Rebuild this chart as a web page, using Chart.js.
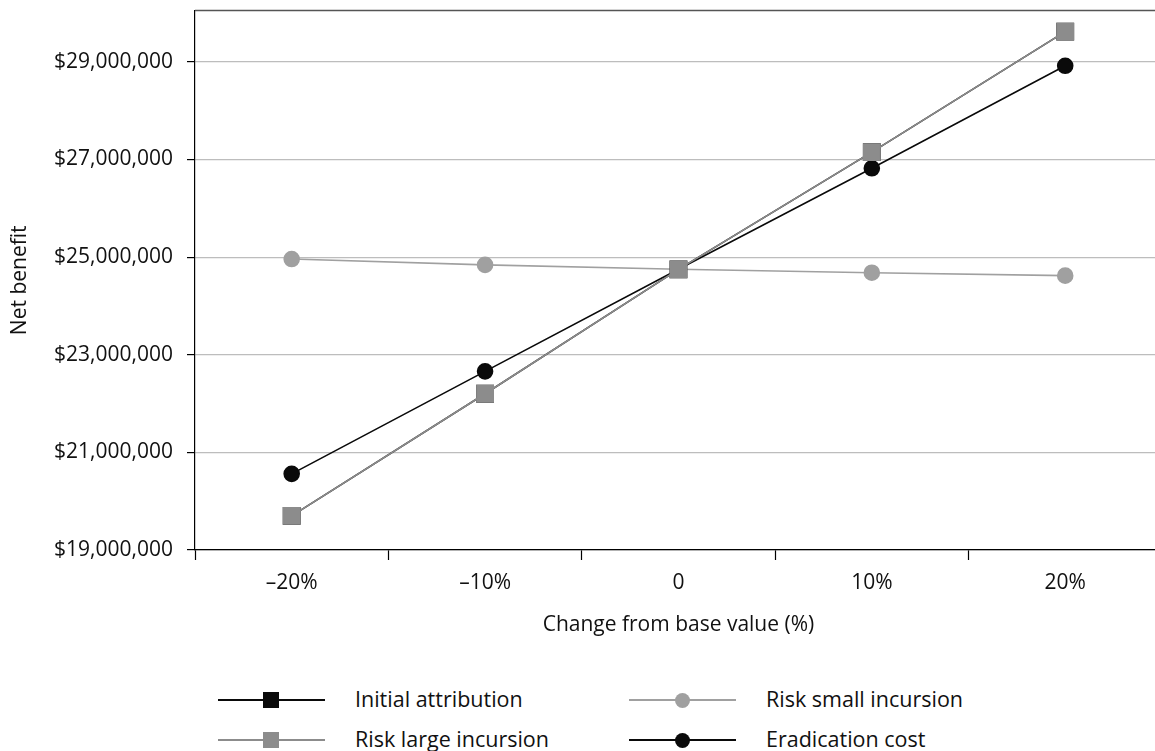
<!DOCTYPE html>
<html>
<head>
<meta charset="utf-8">
<script src="https://cdn.jsdelivr.net/npm/chart.js@4/dist/chart.umd.min.js"></script>
<style>
  html, body { margin: 0; padding: 0; background: #fff; overflow: hidden; }
  body { width: 1155px; height: 751px; position: relative; font-family: 'Open Sans', sans-serif; }
  #wrap { position: absolute; left: 0; top: -16px; width: 1175px; height: 676px; }
  .legend { position: absolute; font-size: 21.5px; color: #111; }
  .item { position: absolute; height: 20px; white-space: nowrap; }
  .item .ln { position: absolute; left: 0; top: 9px; width: 107px; height: 2px; }
  .item .mk { position: absolute; }
  .item span { position: absolute; left: 137px; top: -6px; }
</style>
</head>
<body>
<div id="wrap"><canvas id="chart"></canvas></div>
<div class="legend" id="legend"></div>
<script>
// ── Data ───────────────────────────────────────────────────────
const categories = ['\u201320%', '\u201310%', '0', '10%', '20%'];
const initialAttribution = [19700000, 22200000, 24750000, 27150000, 29620000];
const riskLarge = [19700000, 22200000, 24750000, 27150000, 29620000];
const riskSmall = [24960000, 24840000, 24750000, 24680000, 24620000];
const eradicationCost = [20560000, 22660000, 24750000, 26820000, 28920000];
const yTicks = [19000000, 21000000, 23000000, 25000000, 27000000, 29000000];

const BLACK = '#0a0a0a', GREY = '#8c8c8c', LIGHT = '#a0a0a0';

// ── Top frame line ─────────────────────────────────────────────
const topBorder = {
  id: 'topBorder',
  afterDraw(chart) {
    const { ctx, chartArea: a } = chart;
    ctx.save();
    ctx.strokeStyle = '#555';
    ctx.lineWidth = 1.5;
    ctx.beginPath();
    ctx.moveTo(a.left, a.top);
    ctx.lineTo(a.right, a.top);
    ctx.stroke();
    ctx.restore();
  }
};

Chart.defaults.font.family = "'Open Sans', sans-serif";
Chart.defaults.color = '#111';

new Chart(document.getElementById('chart'), {
  type: 'line',
  data: {
    labels: categories,
    datasets: [
      { label: 'Initial attribution', data: initialAttribution, borderColor: BLACK, backgroundColor: BLACK, pointStyle: 'rect', pointRadius: 11.5, borderWidth: 1.6, order: 1 },
      { label: 'Risk large incursion', data: riskLarge, borderColor: GREY, backgroundColor: GREY, pointStyle: 'rect', pointRadius: 11.5, borderWidth: 1.6, order: 0 },
      { label: 'Risk small incursion', data: riskSmall, borderColor: LIGHT, backgroundColor: LIGHT, pointStyle: 'circle', pointRadius: 7.5, borderWidth: 1.6, order: 3 },
      { label: 'Eradication cost', data: eradicationCost, borderColor: BLACK, backgroundColor: BLACK, pointStyle: 'circle', pointRadius: 7.5, borderWidth: 1.6, order: 2 }
    ]
  },
  options: {
    responsive: true, maintainAspectRatio: false, animation: false,
    layout: { padding: { top: 0, left: 0, right: 10, bottom: 0 } },
    elements: { point: { borderWidth: 0 }, line: { tension: 0 } },
    plugins: { legend: { display: false }, tooltip: { enabled: false } },
    scales: {
      x: {
        offset: true,
        grid: { offset: true, drawOnChartArea: false, tickLength: 10, tickColor: '#000', tickWidth: 1.2 },
        border: { color: '#000', width: 1.2 },
        ticks: { font: { size: 21 }, color: '#111', padding: 10 },
        title: { display: true, text: 'Change from base value (%)', font: { size: 21 }, color: '#111', padding: { top: 14, bottom: 22 } },
        afterFit: (s) => { s.height = 110; }
      },
      y: {
        min: 19000000, max: 30050000,
        afterBuildTicks: (s) => { s.ticks = yTicks.map(v => ({ value: v })); },
        grid: { color: '#bdbdbd', lineWidth: 1.2, tickLength: 8, tickColor: '#000', tickWidth: 1.2 },
        border: { color: '#000', width: 1.2 },
        ticks: { font: { size: 21 }, color: '#111', padding: 14,
          callback: (v) => '$' + Number(v).toLocaleString('en-US') },
        title: { display: true, text: 'Net benefit', font: { size: 21 }, color: '#111', padding: { top: 7, bottom: 4 } },
        afterFit: (s) => { s.width = 195; }
      }
    }
  },
  plugins: [topBorder]
});

// ── HTML legend ────────────────────────────────────────────────
const legendItems = [
  { label: 'Initial attribution', color: BLACK, shape: 'rect', x: 218, y: 690 },
  { label: 'Risk large incursion', color: GREY, shape: 'rect', x: 218, y: 730 },
  { label: 'Risk small incursion', color: LIGHT, shape: 'circle', x: 629, y: 690 },
  { label: 'Eradication cost', color: BLACK, shape: 'circle', x: 629, y: 730 }
];
const legendEl = document.getElementById('legend');
legendItems.forEach(it => {
  const d = document.createElement('div');
  d.className = 'item';
  d.style.left = it.x + 'px';
  d.style.top = it.y + 'px';
  const sz = it.shape === 'rect' ? 16 : 15;
  d.innerHTML = `<div class="ln" style="background:${it.color}"></div>` +
    `<div class="mk" style="left:${53 - sz / 2}px;top:${10 - sz / 2}px;width:${sz}px;height:${sz}px;background:${it.color};border-radius:${it.shape === 'circle' ? '50%' : '0'}"></div>` +
    `<span>${it.label}</span>`;
  legendEl.appendChild(d);
});
</script>
</body>
</html>
